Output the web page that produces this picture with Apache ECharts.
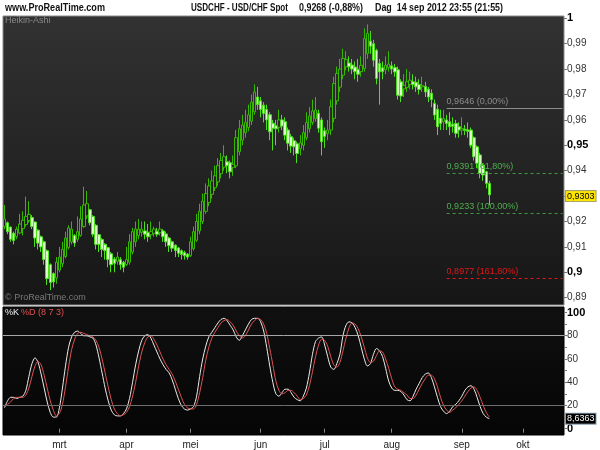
<!DOCTYPE html>
<html><head><meta charset="utf-8">
<script src="https://cdn.jsdelivr.net/npm/echarts@6/dist/echarts.min.js"></script>
<style>html,body{margin:0;padding:0;background:#fff}#c{width:600px;height:450px}</style>
</head><body><div id="c"></div>
<script>
// Heikin-Ashi candles, USD/CHF daily, 6 feb 2012 .. 14 sep 2012
const haOpen = [
0.9180,0.9195,0.9178,0.9154,0.9140,0.9155,0.9172,0.9188,0.9204,0.9216,
0.9198,0.9166,0.9140,0.9120,0.9085,0.9030,0.8995,0.8978,0.9009,0.9034,
0.9062,0.9098,0.9120,0.9145,0.9130,0.9145,0.9180,0.9222,0.9246,0.9220,
0.9185,0.9148,0.9129,0.9110,0.9097,0.9073,0.9052,0.9043,0.9050,0.9040,
0.9030,0.9040,0.9080,0.9120,0.9145,0.9157,0.9163,0.9157,0.9148,0.9154,
0.9162,0.9156,0.9163,0.9151,0.9135,0.9120,0.9107,0.9096,0.9085,0.9078,
0.9072,0.9066,0.9093,0.9126,0.9163,0.9200,0.9240,0.9275,0.9307,0.9333,
0.9356,0.9388,0.9414,0.9435,0.9431,0.9413,0.9419,0.9475,0.9520,0.9550,
0.9570,0.9595,0.9632,0.9690,0.9675,0.9658,0.9641,0.9620,0.9587,0.9577,
0.9571,0.9600,0.9593,0.9560,0.9534,0.9518,0.9506,0.9487,0.9500,0.9530,
0.9565,0.9590,0.9605,0.9626,0.9600,0.9557,0.9546,0.9560,0.9606,0.9675,
0.9729,0.9776,0.9809,0.9824,0.9816,0.9808,0.9799,0.9790,0.9802,0.9861,
0.9910,0.9900,0.9874,0.9822,0.9805,0.9797,0.9806,0.9813,0.9806,0.9797,
0.9750,0.9722,0.9728,0.9739,0.9750,0.9748,0.9739,0.9730,0.9732,0.9721,
0.9705,0.9665,0.9642,0.9607,0.9592,0.9600,0.9593,0.9583,0.9586,0.9573,
0.9560,0.9563,0.9560,0.9560,0.9530,0.9494,0.9462,0.9422,0.9396,0.9350];
const haClose = [
0.9210,0.9160,0.9130,0.9125,0.9170,0.9190,0.9205,0.9220,0.9228,0.9180,
0.9135,0.9115,0.9100,0.9050,0.8975,0.8960,0.8962,0.9040,0.9060,0.9090,
0.9135,0.9175,0.9170,0.9115,0.9160,0.9210,0.9265,0.9270,0.9195,0.9150,
0.9110,0.9110,0.9090,0.9085,0.9050,0.9030,0.9035,0.9060,0.9030,0.9020,
0.9050,0.9120,0.9160,0.9170,0.9170,0.9170,0.9150,0.9140,0.9160,0.9170,
0.9150,0.9170,0.9140,0.9120,0.9105,0.9095,0.9085,0.9075,0.9070,0.9065,
0.9060,0.9120,0.9160,0.9200,0.9240,0.9280,0.9310,0.9340,0.9360,0.9380,
0.9420,0.9440,0.9455,0.9420,0.9396,0.9425,0.9530,0.9565,0.9580,0.9590,
0.9620,0.9670,0.9710,0.9660,0.9641,0.9625,0.9600,0.9553,0.9567,0.9565,
0.9600,0.9576,0.9540,0.9508,0.9497,0.9494,0.9468,0.9510,0.9550,0.9590,
0.9615,0.9635,0.9639,0.9567,0.9514,0.9535,0.9560,0.9652,0.9743,0.9783,
0.9800,0.9842,0.9838,0.9809,0.9800,0.9790,0.9780,0.9815,0.9920,0.9940,
0.9890,0.9835,0.9763,0.9789,0.9790,0.9815,0.9820,0.9800,0.9789,0.9697,
0.9694,0.9735,0.9750,0.9756,0.9740,0.9730,0.9720,0.9735,0.9710,0.9690,
0.9680,0.9619,0.9573,0.9586,0.9605,0.9586,0.9573,0.9575,0.9547,0.9560,
0.9566,0.9559,0.9555,0.9500,0.9455,0.9429,0.9390,0.9383,0.9350,0.9305];
const haLow = [
0.9170,0.9150,0.9120,0.9110,0.9130,0.9150,0.9145,0.9180,0.9195,0.9170,
0.9100,0.9090,0.9080,0.9030,0.8950,0.8930,0.8940,0.8955,0.9000,0.9020,
0.9055,0.9090,0.9110,0.9100,0.9120,0.9140,0.9175,0.9210,0.9185,0.9140,
0.9090,0.9080,0.9060,0.9050,0.9020,0.9000,0.9000,0.9030,0.9010,0.9000,
0.9025,0.9030,0.9070,0.9100,0.9130,0.9140,0.9130,0.9120,0.9130,0.9140,
0.9140,0.9145,0.9120,0.9100,0.9080,0.9080,0.9060,0.9060,0.9050,0.9050,
0.9050,0.9060,0.9085,0.9120,0.9150,0.9190,0.9230,0.9260,0.9290,0.9320,
0.9340,0.9370,0.9400,0.9390,0.9370,0.9380,0.9410,0.9460,0.9500,0.9530,
0.9555,0.9580,0.9620,0.9640,0.9610,0.9590,0.9560,0.9520,0.9480,0.9500,
0.9550,0.9560,0.9520,0.9480,0.9470,0.9460,0.9430,0.9460,0.9480,0.9520,
0.9550,0.9580,0.9593,0.9550,0.9460,0.9490,0.9520,0.9540,0.9590,0.9660,
0.9710,0.9760,0.9795,0.9790,0.9780,0.9760,0.9750,0.9770,0.9790,0.9840,
0.9860,0.9810,0.9740,0.9660,0.9760,0.9780,0.9790,0.9780,0.9770,0.9680,
0.9670,0.9690,0.9710,0.9720,0.9720,0.9710,0.9700,0.9710,0.9690,0.9670,
0.9650,0.9600,0.9540,0.9560,0.9560,0.9560,0.9540,0.9550,0.9530,0.9530,
0.9540,0.9540,0.9530,0.9490,0.9440,0.9410,0.9370,0.9360,0.9330,0.9265];
const haHigh = [
0.9265,0.9200,0.9180,0.9160,0.9180,0.9230,0.9240,0.9298,0.9280,0.9225,
0.9200,0.9170,0.9145,0.9125,0.9090,0.9035,0.9000,0.9060,0.9100,0.9120,
0.9160,0.9185,0.9200,0.9150,0.9220,0.9260,0.9337,0.9320,0.9250,0.9225,
0.9190,0.9150,0.9135,0.9115,0.9100,0.9080,0.9060,0.9080,0.9060,0.9045,
0.9100,0.9150,0.9175,0.9200,0.9210,0.9200,0.9200,0.9190,0.9200,0.9180,
0.9175,0.9200,0.9170,0.9160,0.9140,0.9125,0.9110,0.9100,0.9090,0.9085,
0.9075,0.9140,0.9180,0.9230,0.9270,0.9310,0.9350,0.9370,0.9400,0.9420,
0.9450,0.9470,0.9500,0.9460,0.9440,0.9460,0.9560,0.9600,0.9620,0.9640,
0.9660,0.9700,0.9740,0.9730,0.9690,0.9670,0.9660,0.9630,0.9600,0.9600,
0.9640,0.9620,0.9610,0.9570,0.9545,0.9530,0.9515,0.9540,0.9580,0.9630,
0.9650,0.9680,0.9690,0.9640,0.9610,0.9570,0.9600,0.9680,0.9770,0.9810,
0.9840,0.9880,0.9870,0.9850,0.9840,0.9830,0.9840,0.9850,0.9960,0.9976,
0.9950,0.9915,0.9880,0.9840,0.9830,0.9850,0.9870,0.9830,0.9820,0.9810,
0.9760,0.9780,0.9800,0.9790,0.9780,0.9770,0.9760,0.9770,0.9750,0.9730,
0.9720,0.9680,0.9660,0.9640,0.9640,0.9620,0.9630,0.9610,0.9600,0.9590,
0.9610,0.9580,0.9590,0.9570,0.9535,0.9500,0.9470,0.9430,0.9400,0.9360];
// Stochastic (8 7 3)
const stochK = [
18,24,27,27,26,27,28,33,45,56, 61,57,47,35,23,14,10,10,18,35,
54,70,79,83,84,82,80,80,79,78, 72,61,48,35,24,16,12,11,11,13,
17,26,40,55,67,76,80,81,78,72, 66,60,55,51,48,42,34,26,20,17,
16,17,19,28,45,60,71,79,83,87, 91,94,95,93,89,85,79,76,80,85,
90,94,95,95,92,84,70,54,40,30, 28,31,34,34,31,27,25,24,28,35,
48,64,75,78,79,72,62,53,51,56, 64,80,89,92,91,87,80,70,60,54,
56,64,69,67,62,52,41,35,33,33, 32,29,25,24,28,34,39,44,47,48,
44,36,27,19,15,13,15,19,21,24, 28,33,36,37,34,27,19,13,10,8.6363];
const stochD = [
20,21,23,26,27,27,27,29,35,45, 54,58,55,46,35,24,16,11,13,21,
36,53,68,77,82,83,82,81,80,79, 76,70,60,48,36,25,17,13,11,12,
14,19,28,40,54,66,74,79,80,77, 72,66,60,55,51,47,41,34,27,21,
18,17,17,21,31,44,59,70,78,83, 87,91,93,94,92,89,84,80,78,80,
85,90,93,95,94,90,82,69,55,41, 33,30,31,33,33,31,28,25,26,29,
37,49,62,72,77,76,71,62,55,53, 57,67,78,87,91,90,86,79,70,61,
57,58,63,67,66,60,52,43,36,34, 33,31,29,26,26,29,34,39,43,46,
46,43,36,27,20,16,14,16,18,21, 24,28,32,35,36,33,27,20,14,10];
const priceTicks = [0.89,0.90,0.91,0.92,0.93,0.94,0.95,0.96,0.97,0.98,0.99,1.00];
const stochTicks = [0,20,40,60,80,100];
const stochMinorTicks = [0,10,20,30,40,50,60,70,80,90,100];
const stochLevels = [80,20];
const monthLabels = ['jan','feb','mrt','apr','mei','jun','jul','aug','sep','okt','nov','dec'];
const fibLevels = [0.9646,0.9391,0.9233,0.8977];
const fibTexts = ['0,9646 (0,00%)','0,9391 (61,80%)','0,9233 (100,00%)','0,8977 (161,80%)'];
const lastPrice = 0.9303;
const lastStoch = 8.6363;
const startDay = [2012,1,6];
const futureDays = 24;
const fibStartIndex = 145;
const headerTexts = ['www.ProRealTime.com','USDCHF - USD/CHF Spot','0,9268 (-0,88%)','Dag  14 sep 2012 23:55 (21:55)'];

// trading-day categories
const categories = [];
{
  const d = new Date(Date.UTC(startDay[0], startDay[1], startDay[2]));
  while (categories.length < haOpen.length + futureDays) {
    const wd = d.getUTCDay();
    if (wd !== 0 && wd !== 6) categories.push(d.toISOString().slice(0,10));
    d.setUTCDate(d.getUTCDate() + 1);
  }
}
const monthStart = new Set();
categories.forEach((c,i) => { if (i > 0 && c.slice(5,7) !== categories[i-1].slice(5,7)) monthStart.add(i); });
const lastIdx = categories.length - 1;

const FONT = '"Liberation Sans", Arial, sans-serif';
const HFONT = 'bold 11px ' + FONT;
const mctx = document.createElement('canvas').getContext('2d');
function fitText(text, x, targetW, font) {
  mctx.font = font;
  const w = mctx.measureText(text).width || targetW;
  return {type:'text', x:x, y:8, scaleX: targetW / w, z:100,
          style:{text:text, font:font, fill:'#111', verticalAlign:'middle'}};
}
const chart = echarts.init(document.getElementById('c'), null, {renderer:'canvas'});
const fmtPrice = v => String(+v.toFixed(2)).replace('.', ',');
const fibLineColors = ['#8c8c8c','#3f9a3f','#3f9a3f','#e01818'];
const fibTextColors = ['#8c8c8c','#4fae4f','#4fae4f','#e01818'];
const clear = 'rgba(0,0,0,0)';

const option = {
  animation: false,
  backgroundColor: '#ffffff',
  grid: [
    {left: 3, right: 36, top: 16, height: 289, show: true,
     backgroundColor: new echarts.graphic.LinearGradient(0,0,0,1,[{offset:0,color:'#323232'},{offset:1,color:'#161616'}]),
     borderColor: '#8a8a8a', borderWidth: 1},
    {left: 3, right: 36, top: 307, height: 128, show: true,
     backgroundColor: new echarts.graphic.LinearGradient(0,0,0,1,[{offset:0,color:'#101010'},{offset:1,color:'#050505'}]),
     borderColor: '#000', borderWidth: 1}
  ],
  xAxis: [
    {type:'category', gridIndex:0, data: categories, boundaryGap: true,
     axisLine:{show:false}, axisTick:{show:false}, axisLabel:{show:false}, splitLine:{show:false}},
    {type:'category', gridIndex:1, data: categories, boundaryGap: true,
     axisLine:{show:false},
     axisTick:{show:true, alignWithLabel:true, length:4, interval:(i)=>monthStart.has(i), lineStyle:{color:'#8a8a8a'}},
     axisLabel:{show:true, interval:(i)=>monthStart.has(i), margin:5, fontSize:10, fontFamily:FONT, color:'#222',
       formatter: v => monthLabels[+v.slice(5,7)-1]},
     splitLine:{show:false}}
  ],
  yAxis: [
    {type:'value', gridIndex:0, position:'right', min:0.88713, max:1.0009, scale:true,
     axisLine:{show:false}, splitLine:{show:false},
     axisTick:{show:true, length:3, customValues: priceTicks, lineStyle:{color:'#777'}},
     axisLabel:{show:true, customValues: priceTicks, margin:3, fontSize:10, fontFamily:FONT, color:'#333',
       formatter: v => { const s = fmtPrice(v); return (Math.round(v*100) % 5 === 0) ? '{b|'+s+'}' : s; },
       rich:{b:{fontWeight:'bold', color:'#000', fontSize:11, fontFamily:FONT}}}},
    {type:'value', gridIndex:1, position:'right', min:-5.42, max:104.73,
     axisLine:{show:false}, splitLine:{show:false},
     axisTick:{show:true, length:3, customValues: stochMinorTicks, lineStyle:{color:'#777'}},
     axisLabel:{show:true, customValues: stochTicks, margin:3, fontSize:10, fontFamily:FONT, color:'#333',
       formatter: v => (v === 0 || v === 100) ? '{b|'+v+'}' : String(v),
       rich:{b:{fontWeight:'bold', color:'#000', fontSize:11, fontFamily:FONT}}}}
  ],
  series: [
    {type:'candlestick', xAxisIndex:0, yAxisIndex:0,
     data: haOpen.map((o,i) => [o, haClose[i], haLow[i], haHigh[i]]),
     barWidth: 3,
     itemStyle:{color:clear, color0:'#d8ffc6', borderColor:'#36b800', borderColor0:'#4ae01a', borderWidth:1},
     markLine:{
       symbol:['none','none'], silent:true, animation:false,
       data: [
         ...fibLevels.map((v,k) => [
           {coord:[categories[fibStartIndex], v],
            lineStyle:{color:fibLineColors[k], type: k === 0 ? 'solid' : [3,3], width:1},
            label:{show:true, position:'insideStartTop', distance:[0,2], formatter: fibTexts[k], color: fibTextColors[k], fontSize:9, fontFamily:FONT}},
           {coord:[categories[lastIdx], v]}
         ])
       ]}
    },
    {type:'line', name:'%K', xAxisIndex:1, yAxisIndex:1, data: stochK, symbol:'none', smooth:0.3,
     lineStyle:{color:'#ececec', width:1}, itemStyle:{color:'#ececec'}},
    {type:'line', name:'%D', xAxisIndex:1, yAxisIndex:1, data: stochD, symbol:'none', smooth:0.3,
     lineStyle:{color:'#e05252', width:1}, itemStyle:{color:'#e05252'}, z:3,
     markLine:{symbol:['none','none'], silent:true, animation:false, label:{show:false},
       data: stochLevels.map((v,k) => ({yAxis:v, lineStyle:{color: k === 0 ? '#a8a8a8' : '#6e6e6e', type:'solid', width:1}}))}},
    // last-value boxes on the right-hand scales
    {type:'line', xAxisIndex:0, yAxisIndex:0, data:[], silent:true, z:10,
     markLine:{symbol:['none','none'], silent:true, animation:false,
       data:[{yAxis:lastPrice, lineStyle:{color:clear, width:1},
         label:{show:true, position:'end', distance:2, formatter: lastPrice.toFixed(4).replace('.',','), color:'#000', fontSize:9, fontFamily:FONT,
                backgroundColor:'#ffe600', borderColor:'#a0a070', borderWidth:1, padding:[1,1,0,1]}}]}},
    {type:'line', xAxisIndex:1, yAxisIndex:1, data:[], silent:true, z:10,
     markLine:{symbol:['none','none'], silent:true, animation:false,
       data:[{yAxis:lastStoch, lineStyle:{color:clear, width:1},
         label:{show:true, position:'end', distance:2, formatter: String(lastStoch).replace('.',','), color:'#fff', fontSize:9, fontFamily:FONT,
                backgroundColor:'#000', borderColor:'#8aa0b0', borderWidth:1, padding:[1,1,0,1]}}]}}
  ],
  graphic: [
    fitText(headerTexts[0], 5, 100, HFONT),
    fitText(headerTexts[1], 191, 97, HFONT),
    fitText(headerTexts[2], 299, 64, HFONT),
    fitText(headerTexts[3], 375, 128, HFONT),
    {type:'text', x:5, y:21, z:100, style:{text:'Heikin-Ashi', font:'9px '+FONT, fill:'#8a8a8a', verticalAlign:'middle'}},
    {type:'text', x:5, y:298, z:100, style:{text:'© ProRealTime.com', font:'9px '+FONT, fill:'#7a7a7a', verticalAlign:'middle'}},
    {type:'text', x:5, y:313, z:100, style:{text:'%K', font:'9px '+FONT, fill:'#f0f0f0', verticalAlign:'middle'}},
    {type:'text', x:21, y:313, z:100, style:{text:'%D (8 7 3)', font:'9px '+FONT, fill:'#e05252', verticalAlign:'middle'}}
  ]
};
chart.setOption(option);
</script>
</body></html>
